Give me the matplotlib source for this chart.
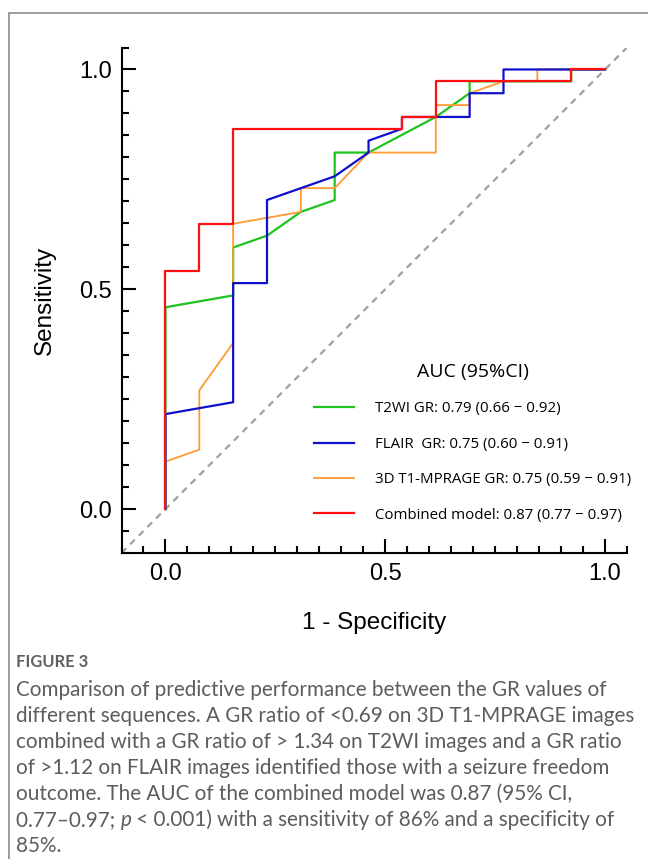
import matplotlib
matplotlib.use("Agg")
import matplotlib.pyplot as plt
from matplotlib.patches import Rectangle
from matplotlib.ticker import MultipleLocator

# ROC curves (x = 1 - specificity, y = sensitivity)
t2wi_x = [0, 0, 0.154, 0.154, 0.231, 0.308, 0.385, 0.385, 0.462, 0.615, 0.692, 0.692, 0.923, 0.923, 1.0]
t2wi_y = [0, 0.459, 0.486, 0.595, 0.622, 0.676, 0.703, 0.811, 0.811, 0.892, 0.946, 0.973, 0.973, 1.0, 1.0]

flair_x = [0, 0, 0.154, 0.154, 0.231, 0.231, 0.308, 0.385, 0.462, 0.462, 0.538, 0.538, 0.615, 0.692, 0.692, 0.769, 0.769, 0.923, 1.0]
flair_y = [0, 0.216, 0.243, 0.514, 0.514, 0.703, 0.730, 0.757, 0.811, 0.838, 0.865, 0.892, 0.892, 0.892, 0.946, 0.946, 1.0, 1.0, 1.0]

t1_x = [0, 0, 0.077, 0.077, 0.154, 0.154, 0.308, 0.308, 0.385, 0.462, 0.615, 0.615, 0.692, 0.692, 0.769, 0.846, 0.846, 1.0]
t1_y = [0, 0.108, 0.135, 0.270, 0.378, 0.649, 0.676, 0.730, 0.730, 0.811, 0.811, 0.919, 0.919, 0.946, 0.973, 0.973, 1.0, 1.0]

comb_x = [0, 0, 0.077, 0.077, 0.154, 0.154, 0.538, 0.538, 0.615, 0.615, 0.923, 0.923, 1.0]
comb_y = [0, 0.541, 0.541, 0.649, 0.649, 0.865, 0.865, 0.892, 0.892, 0.973, 0.973, 1.0, 1.0]

labels = ["T2WI GR: 0.79 (0.66 \u2212 0.92)",
          "FLAIR  GR: 0.75 (0.60 \u2212 0.91)",
          "3D T1-MPRAGE GR: 0.75 (0.59 \u2212 0.91)",
          "Combined model: 0.87 (0.77 \u2212 0.97)"]

caption = ["Comparison of predictive performance between the GR values of",
           "different sequences. A GR ratio of <0.69 on 3D T1-MPRAGE images",
           "combined with a GR ratio of > 1.34 on T2WI images and a GR ratio",
           "of >1.12 on FLAIR images identified those with a seizure freedom",
           "outcome. The AUC of the combined model was 0.87 (95% CI,"]

W, H = 648, 859
fig = plt.figure(figsize=(W / 100, H / 100), dpi=100)

# grey frame around figure + caption
fig.patches.append(Rectangle((8.5 / W, -0.05), 1.1, (H - 12.5) / H + 0.05,
                             transform=fig.transFigure, fill=False,
                             edgecolor="#8a8a8a", lw=1.2))

ax = fig.add_axes([121.5 / W, 1 - 553 / H, 505.5 / W, 505.5 / H])
ax.set_xlim(-0.1, 1.05)
ax.set_ylim(-0.1, 1.05)

ax.plot([-0.1, 1.05], [-0.1, 1.05], color="#a0a0a0", lw=1.6, ls=(0, (3, 2.5)))
l1, = ax.plot(t2wi_x, t2wi_y, color="#1ec41e", lw=1.6)
l3, = ax.plot(t1_x, t1_y, color="#ff9a30", lw=1.3)
l2, = ax.plot(flair_x, flair_y, color="#1010cc", lw=1.6)
l4, = ax.plot(comb_x, comb_y, color="#ff1010", lw=1.6)

for s in ["top", "right"]:
    ax.spines[s].set_visible(False)
for s in ["left", "bottom"]:
    ax.spines[s].set_linewidth(1.5)

ax.xaxis.set_major_locator(MultipleLocator(0.5))
ax.yaxis.set_major_locator(MultipleLocator(0.5))
ax.xaxis.set_minor_locator(MultipleLocator(0.05))
ax.yaxis.set_minor_locator(MultipleLocator(0.05))
ax.tick_params(which="major", direction="in", length=10, width=1.5, pad=7)
ax.tick_params(which="minor", direction="in", length=5, width=1.5)
for lab in ax.get_xticklabels() + ax.get_yticklabels():
    lab.set_fontfamily("Liberation Sans")
    lab.set_fontsize(17)

ax.set_xlabel("1 - Specificity", fontfamily="Liberation Sans", fontsize=17.5, labelpad=20)
ax.set_ylabel("Sensitivity", fontfamily="Liberation Sans", fontsize=17.5, labelpad=17)

leg = ax.legend([l1, l2, l3, l4], labels, loc="center", bbox_to_anchor=(0.695, 0.218),
                frameon=False, title="AUC (95%CI)",
                prop={"family": "Open Sans", "size": 10.8},
                title_fontproperties={"family": "Open Sans", "size": 14},
                handlelength=2.67, handletextpad=1.4, labelspacing=1.36)

# caption
fig.text(16 / W, 1 - 662 / H, "FIGURE 3", family="Lato", weight="bold",
         fontsize=11.9, color="#606060", va="center")
fs = 14.9
cc = "#5c5c5c"
y0 = 690
for i, line in enumerate(caption):
    fig.text(16 / W, 1 - (y0 + 26 * i) / H, line, family="Lato",
             fontsize=fs, color=cc, va="center")

# line with italic p
fig.canvas.draw()
r = fig.canvas.get_renderer()
yl = 1 - (y0 + 26 * 5) / H
t = fig.text(16 / W, yl, "0.77\u20130.97; ", family="Lato", fontsize=fs, color=cc, va="center")
x1 = t.get_window_extent(r).x1 / W
t2 = fig.text(x1, yl, "p", family="Lato", style="italic", fontsize=fs, color=cc, va="center")
x2 = t2.get_window_extent(r).x1 / W
fig.text(x2, yl, " < 0.001) with a sensitivity of 86% and a specificity of", family="Lato",
         fontsize=fs, color=cc, va="center")
fig.text(16 / W, 1 - (y0 + 26 * 6) / H, "85%.", family="Lato", fontsize=fs,
         color=cc, va="center")

plt.savefig("out.png", dpi=100)
